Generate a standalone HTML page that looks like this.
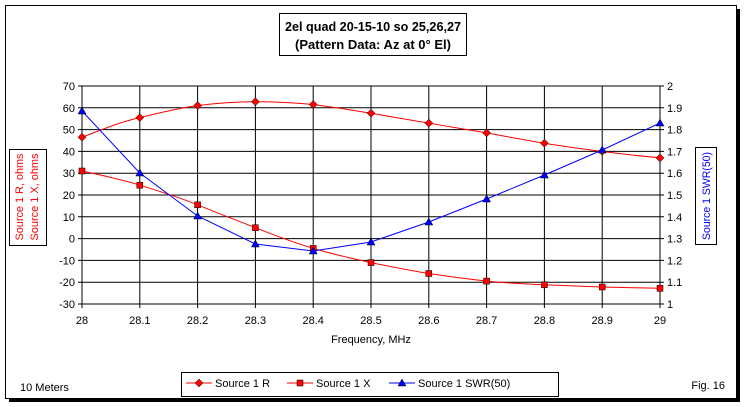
<!DOCTYPE html>
<html><head><meta charset="utf-8"><style>
html,body{margin:0;padding:0;background:#fff;}
svg{display:block;font-family:"Liberation Sans",Arial,sans-serif;}
</style></head><body>
<svg width="744" height="407" viewBox="0 0 744 407" xmlns="http://www.w3.org/2000/svg">
<rect x="0" y="0" width="744" height="407" fill="#fff"/>
<rect x="9" y="9" width="731" height="393" fill="#000"/>
<rect x="5.5" y="5.5" width="731" height="393" fill="#fff" stroke="#000" stroke-width="1"/>
<rect x="279.5" y="13.5" width="187" height="42" fill="#fff" stroke="#000"/>
<text x="373" y="31" font-size="13" font-weight="bold" text-anchor="middle" textLength="176" lengthAdjust="spacingAndGlyphs">2el quad 20-15-10 so 25,26,27</text>
<text x="373" y="49" font-size="13" font-weight="bold" text-anchor="middle" textLength="156" lengthAdjust="spacingAndGlyphs">(Pattern Data: Az at 0° El)</text>
<g stroke="#000" stroke-width="1" fill="none">
<path d="M82 86H660M82 107.8H660M82 129.6H660M82 151.4H660M82 173.2H660M82 195H660M82 216.8H660M82 238.6H660M82 260.4H660M82 282.2H660M82 304H660"/>
<path d="M82 86V304M139.8 86V304M197.6 86V304M255.4 86V304M313.2 86V304M371 86V304M428.8 86V304M486.6 86V304M544.4 86V304M602.2 86V304M660 86V304"/>
<path d="M78 86H82M78 107.8H82M78 129.6H82M78 151.4H82M78 173.2H82M78 195H82M78 216.8H82M78 238.6H82M78 260.4H82M78 282.2H82M78 304H82"/>
<path d="M660 86H664M660 107.8H664M660 129.6H664M660 151.4H664M660 173.2H664M660 195H664M660 216.8H664M660 238.6H664M660 260.4H664M660 282.2H664M660 304H664"/>
<path d="M82 304V308M139.8 304V308M197.6 304V308M255.4 304V308M313.2 304V308M371 304V308M428.8 304V308M486.6 304V308M544.4 304V308M602.2 304V308M660 304V308"/>
</g>
<g font-size="11" text-anchor="end">
<text x="75" y="90">70</text><text x="75" y="111.8">60</text><text x="75" y="133.6">50</text><text x="75" y="155.4">40</text><text x="75" y="177.2">30</text><text x="75" y="199">20</text><text x="75" y="220.8">10</text><text x="75" y="242.6">0</text><text x="75" y="264.4">-10</text><text x="75" y="286.2">-20</text><text x="75" y="308">-30</text>
</g>
<g font-size="11" text-anchor="start">
<text x="667" y="90">2</text><text x="667" y="111.8">1.9</text><text x="667" y="133.6">1.8</text><text x="667" y="155.4">1.7</text><text x="667" y="177.2">1.6</text><text x="667" y="199">1.5</text><text x="667" y="220.8">1.4</text><text x="667" y="242.6">1.3</text><text x="667" y="264.4">1.2</text><text x="667" y="286.2">1.1</text><text x="667" y="308">1</text>
</g>
<g font-size="11" text-anchor="middle">
<text x="82" y="324">28</text><text x="139.8" y="324">28.1</text><text x="197.6" y="324">28.2</text><text x="255.4" y="324">28.3</text><text x="313.2" y="324">28.4</text><text x="371" y="324">28.5</text><text x="428.8" y="324">28.6</text><text x="486.6" y="324">28.7</text><text x="544.4" y="324">28.8</text><text x="602.2" y="324">28.9</text><text x="660" y="324">29</text>
<text x="371" y="343">Frequency, MHz</text>
</g>
<rect x="9.5" y="149.5" width="37" height="96" fill="#fff" stroke="#000"/>
<text transform="translate(23,197) rotate(-90)" font-size="11" fill="#f00" text-anchor="middle" textLength="87" lengthAdjust="spacingAndGlyphs">Source 1 R, ohms</text>
<text transform="translate(38,197) rotate(-90)" font-size="11" fill="#f00" text-anchor="middle" textLength="87" lengthAdjust="spacingAndGlyphs">Source 1 X, ohms</text>
<rect x="695.5" y="147.5" width="21" height="97" fill="#fff" stroke="#000"/>
<text transform="translate(710,196) rotate(-90)" font-size="11" fill="#00f" text-anchor="middle" textLength="88" lengthAdjust="spacingAndGlyphs">Source 1 SWR(50)</text>
<path fill="none" stroke="#f00" stroke-width="1" d="M82,137.2 C101,130 120,122 139.8,117.6 C159,113 178,108 197.6,105.6 C217,103 236,101.7 255.4,101.7 C275,101.7 294,102.5 313.2,104.5 C332,107 352,110 371,113.2 C390,116.5 410,120 428.8,123.1 C448,126.5 467,129.5 486.6,132.9 C506,136.5 525,140 544.4,143.2 C564,146.5 583,149 602.2,151.4 C621,154 641,156 660,157.9"/>
<path fill="none" stroke="#f00" stroke-width="1" d="M82,171 C101,175 120,179 139.8,185.2 C159,191 178,197 197.6,204.8 C217,213 236,220 255.4,227.7 C275,235.5 294,242.5 313.2,248.4 C332,254 352,258.5 371,262.6 C390,266.5 410,270.5 428.8,273.5 C448,276.5 467,279 486.6,281.1 C506,283 525,284 544.4,284.8 C564,285.6 583,286.4 602.2,287 C621,287.5 641,288 660,288.3"/>
<polyline fill="none" stroke="#00f" stroke-width="1" points="82,111 139.8,173 197.6,216 255.4,244 313.2,251 371,242 428.8,222 486.6,199 544.4,175 602.2,150 660,123"/>
<g fill="#f00" stroke="#000" stroke-width="0.5">
<path d="M82 133.2l4 4-4 4-4-4zM139.8 113.6l4 4-4 4-4-4zM197.6 101.6l4 4-4 4-4-4zM255.4 97.7l4 4-4 4-4-4zM313.2 100.5l4 4-4 4-4-4zM371 109.2l4 4-4 4-4-4zM428.8 119.1l4 4-4 4-4-4zM486.6 128.9l4 4-4 4-4-4zM544.4 139.2l4 4-4 4-4-4zM602.2 147.4l4 4-4 4-4-4zM660 153.9l4 4-4 4-4-4z"/>
<rect x="79" y="168" width="6" height="6"/><rect x="136.8" y="182.2" width="6" height="6"/><rect x="194.6" y="201.8" width="6" height="6"/><rect x="252.4" y="224.7" width="6" height="6"/><rect x="310.2" y="245.4" width="6" height="6"/><rect x="368" y="259.6" width="6" height="6"/><rect x="425.8" y="270.5" width="6" height="6"/><rect x="483.6" y="278.1" width="6" height="6"/><rect x="541.4" y="281.8" width="6" height="6"/><rect x="599.2" y="284" width="6" height="6"/><rect x="657" y="285.3" width="6" height="6"/>
</g>
<g fill="#00f" stroke="#000" stroke-width="0.5">
<path d="M82 107l4 7h-8zM139.8 169l4 7h-8zM197.6 212l4 7h-8zM255.4 240l4 7h-8zM313.2 247l4 7h-8zM371 238l4 7h-8zM428.8 218l4 7h-8zM486.6 195l4 7h-8zM544.4 171l4 7h-8zM602.2 146l4 7h-8zM660 119l4 7h-8z"/>
</g>
<rect x="181.5" y="372.5" width="377" height="24" fill="#fff" stroke="#000"/>
<line x1="186" y1="383" x2="212" y2="383" stroke="#f00"/>
<path d="M199 379l4 4-4 4-4-4z" fill="#f00" stroke="#000" stroke-width="0.5"/>
<text x="215" y="387" font-size="11">Source 1 R</text>
<line x1="287" y1="383" x2="313" y2="383" stroke="#f00"/>
<rect x="297" y="380" width="6" height="6" fill="#f00" stroke="#000" stroke-width="0.5"/>
<text x="316" y="387" font-size="11">Source 1 X</text>
<line x1="389" y1="383" x2="415" y2="383" stroke="#00f"/>
<path d="M402 379l4 7h-8z" fill="#00f" stroke="#000" stroke-width="0.5"/>
<text x="418" y="387" font-size="11">Source 1 SWR(50)</text>
<text x="20" y="391" font-size="11">10 Meters</text>
<text x="725" y="389" font-size="11" text-anchor="end">Fig. 16</text>
</svg>
</body></html>
